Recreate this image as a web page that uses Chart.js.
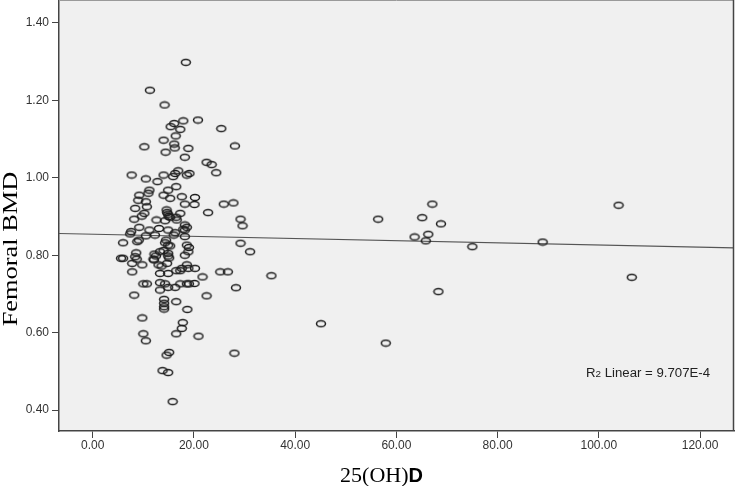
<!DOCTYPE html>
<html>
<head>
<meta charset="utf-8">
<script src="https://cdn.jsdelivr.net/npm/chart.js@4/dist/chart.umd.min.js"></script>
<style>
  html, body { margin: 0; padding: 0; background: #ffffff; }
  .scatter-chart { width: 735px; height: 486px; }
</style>
</head>
<body>
<div class="scatter-chart"><canvas id="chart" width="735" height="486"></canvas></div>
<script>
// 25(OH)D values and femoral BMD
const vitD = [
  18.4, 11.3, 14.2, 16.1, 17.9, 20.8, 15.4, 17.3, 25.4, 16.4,
  14.0, 16.1, 16.2, 10.2, 18.9, 28.1, 14.4, 18.2, 22.5, 23.5,
  24.4, 16.9, 16.3, 19.1, 18.6, 14.0, 15.9, 7.7, 10.5, 12.8,
  16.5, 14.9, 11.2, 11.0, 9.2, 14.0, 15.3, 17.6, 20.2, 9.0,
  10.5, 10.7, 8.4, 18.2, 20.1, 25.9, 27.8, 14.6, 14.7, 14.9,
  15.0, 17.3, 22.8, 10.2, 9.7, 16.5, 15.3, 8.2, 12.6, 14.3,
  16.6, 29.2, 18.2, 18.6, 29.6, 17.9, 9.2, 11.2, 13.1, 14.9,
  16.3, 18.2, 7.6, 7.4, 10.5, 12.3, 16.0, 18.2, 9.1, 8.8,
  14.5, 6.0, 14.9, 18.6, 29.2, 31.1, 18.9, 18.2, 5.6, 6.0,
  8.6, 8.4, 8.7, 12.2, 12.5, 12.0, 13.3, 14.9, 14.9, 15.1,
  14.0, 7.8, 9.8, 13.0, 13.6, 16.5, 17.6, 18.6, 18.9, 20.2,
  13.3, 14.9, 7.8, 25.2, 26.7, 21.7, 35.3, 10.0, 10.7, 13.3,
  14.3, 13.3, 14.9, 16.3, 17.3, 18.6, 19.0, 20.1, 28.3, 8.2,
  22.5, 14.1, 14.1, 14.1, 14.1, 16.5, 18.7, 9.8, 17.8, 17.6,
  10.0, 10.5, 16.5, 20.9, 15.1, 14.6, 13.8, 14.9, 15.8, 28.0,
  45.1, 56.4, 67.1, 65.1, 68.8, 63.6, 66.3, 65.8, 68.3, 75.0,
  88.9, 103.9, 106.5, 57.9, 15.3, 14.3, 12.1, 17.3, 19.0, 14.7
]
const bmd = [
  1.298, 1.226, 1.188, 1.140, 1.147, 1.149, 1.132, 1.125, 1.127, 1.108,
  1.097, 1.087, 1.077, 1.080, 1.076, 1.082, 1.066, 1.053, 1.040, 1.034,
  1.013, 1.018, 1.011, 1.011, 1.007, 1.007, 1.003, 1.007, 0.997, 0.990,
  0.977, 0.968, 0.968, 0.960, 0.955, 0.955, 0.947, 0.951, 0.949, 0.942,
  0.938, 0.925, 0.921, 0.932, 0.931, 0.932, 0.935, 0.917, 0.910, 0.906,
  0.900, 0.908, 0.910, 0.908, 0.901, 0.898, 0.898, 0.893, 0.891, 0.889,
  0.891, 0.893, 0.878, 0.872, 0.876, 0.867, 0.872, 0.865, 0.869, 0.865,
  0.858, 0.865, 0.861, 0.855, 0.850, 0.852, 0.852, 0.848, 0.839, 0.835,
  0.839, 0.832, 0.826, 0.826, 0.831, 0.809, 0.809, 0.800, 0.792, 0.792,
  0.806, 0.796, 0.790, 0.803, 0.798, 0.790, 0.809, 0.805, 0.798, 0.793,
  0.812, 0.779, 0.775, 0.775, 0.772, 0.760, 0.766, 0.775, 0.766, 0.766,
  0.753, 0.753, 0.757, 0.757, 0.757, 0.744, 0.747, 0.726, 0.726, 0.729,
  0.726, 0.710, 0.717, 0.717, 0.726, 0.726, 0.726, 0.727, 0.716, 0.697,
  0.695, 0.686, 0.676, 0.667, 0.661, 0.680, 0.660, 0.638, 0.626, 0.611,
  0.597, 0.579, 0.597, 0.591, 0.549, 0.542, 0.502, 0.497, 0.422, 0.547,
  0.623, 0.893, 0.932, 0.897, 0.881, 0.847, 0.854, 0.837, 0.706, 0.822,
  0.834, 0.929, 0.743, 0.573, 0.824, 0.832, 0.788, 0.760, 0.820, 0.779
]

// linear fit line, read at the two edges of the plot
const fitX = [-6.66, 126.7]
const fitY = [0.856, 0.819]

const xTicks = [0, 20, 40, 60, 80, 100, 120]
const yTicks = [0.40, 0.60, 0.80, 1.00, 1.20, 1.40]
const xTitle = ['25(OH)', 'D']
const yTitle = 'Femoral BMD'
const fitLabel = ['R', '2', ' Linear = 9.707E-4']

function makeMarker() {
  const c = document.createElement('canvas')
  c.width = 12
  c.height = 9
  const ctx = c.getContext('2d')
  ctx.strokeStyle = '#1e1e1e'
  ctx.lineWidth = 1.5
  ctx.beginPath()
  ctx.ellipse(6, 4.5, 4.5, 3.1, 0, 0, Math.PI * 2)
  ctx.stroke()
  return c
}

const plotFrame = {
  id: 'plotFrame',
  beforeDraw(chart) {
    const { ctx, chartArea: a } = chart
    ctx.save()
    ctx.fillStyle = '#f0f0f0'
    ctx.fillRect(a.left, a.top, a.right - a.left, a.bottom - a.top)
    ctx.restore()
  },
  afterDraw(chart) {
    const { ctx, chartArea: a } = chart
    ctx.save()
    ctx.strokeStyle = '#9a9a9a'
    ctx.lineWidth = 1
    ctx.beginPath()
    ctx.moveTo(a.left, a.top + 0.5)
    ctx.lineTo(a.right, a.top + 0.5)
    ctx.stroke()
    ctx.strokeStyle = '#444'
    ctx.lineWidth = 1.5
    ctx.beginPath()
    ctx.moveTo(a.right - 0.5, a.top)
    ctx.lineTo(a.right - 0.5, a.bottom)
    ctx.stroke()

    // x title: serif part + bold sans "D"
    ctx.fillStyle = '#000'
    ctx.textBaseline = 'alphabetic'
    ctx.textAlign = 'left'
    ctx.font = '22px "Liberation Serif"'
    const w1 = ctx.measureText(xTitle[0]).width
    ctx.font = 'bold 20px "Liberation Sans"'
    const w2 = ctx.measureText(xTitle[1]).width
    const x0 = (a.left + a.right) / 2 - 15 - (w1 + w2) / 2
    ctx.font = '22px "Liberation Serif"'
    ctx.fillText(xTitle[0], x0, 482)
    ctx.font = 'bold 20px "Liberation Sans"'
    ctx.fillText(xTitle[1], x0 + w1, 482)

    // y title, rotated
    ctx.save()
    ctx.translate(17, 249)
    ctx.rotate(-Math.PI / 2)
    ctx.scale(1.2, 1)
    ctx.font = '22px "Liberation Serif"'
    ctx.textAlign = 'center'
    ctx.fillText(yTitle, 0, 0)
    ctx.restore()

    // fit annotation
    ctx.fillStyle = '#222'
    ctx.textAlign = 'left'
    ctx.translate(a.right - 148, 377)
    ctx.scale(1.1, 1)
    let x = 0
    ctx.font = '12px "Liberation Sans"'
    ctx.fillText(fitLabel[0], x, 0)
    x += ctx.measureText(fitLabel[0]).width
    ctx.font = '9px "Liberation Sans"'
    ctx.fillText(fitLabel[1], x, 0)
    x += ctx.measureText(fitLabel[1]).width
    ctx.font = '12px "Liberation Sans"'
    ctx.fillText(fitLabel[2], x, 0)
    ctx.restore()
  }
}

const tickFont = { family: '"Liberation Sans", Arial, sans-serif', size: 12 }

new Chart(document.getElementById('chart'), {
  type: 'scatter',
  data: {
    datasets: [
      {
        label: 'BMD',
        data: vitD.map((v, i) => ({ x: v, y: bmd[i] })),
        pointStyle: makeMarker(),
        pointRadius: 4
      },
      {
        type: 'line',
        label: 'Linear fit',
        data: fitX.map((v, i) => ({ x: v, y: fitY[i] })),
        borderColor: '#555555',
        borderWidth: 1.2,
        pointRadius: 0
      }
    ]
  },
  options: {
    responsive: false,
    animation: false,
    layout: {
      autoPadding: false,
      padding: { top: 0, right: 1, left: 0, bottom: 0 }
    },
    scales: {
      x: {
        type: 'linear',
        min: -6.66,
        max: 126.7,
        afterBuildTicks: axis => { axis.ticks = xTicks.map(v => ({ value: v })) },
        afterFit: axis => {
          axis.height = 55
          axis.paddingLeft = 0
          axis.paddingRight = 0
        },
        border: { color: '#444', width: 1.5 },
        grid: { drawOnChartArea: false, tickLength: 7, color: '#444' },
        ticks: {
          color: '#333',
          font: tickFont,
          padding: 0,
          maxRotation: 0,
          autoSkip: false,
          callback: v => v.toFixed(2)
        }
      },
      y: {
        min: 0.346,
        max: 1.459,
        afterBuildTicks: axis => { axis.ticks = yTicks.map(v => ({ value: v })) },
        afterFit: axis => {
          axis.width = 59
          axis.paddingTop = 0
          axis.paddingBottom = 0
        },
        border: { color: '#444', width: 1.5 },
        grid: { drawOnChartArea: false, tickLength: 7, color: '#444' },
        ticks: {
          color: '#333',
          font: tickFont,
          padding: 3,
          autoSkip: false,
          callback: v => v.toFixed(2)
        }
      }
    },
    plugins: {
      legend: { display: false },
      tooltip: { enabled: false }
    }
  },
  plugins: [plotFrame]
})
</script>
</body>
</html>
